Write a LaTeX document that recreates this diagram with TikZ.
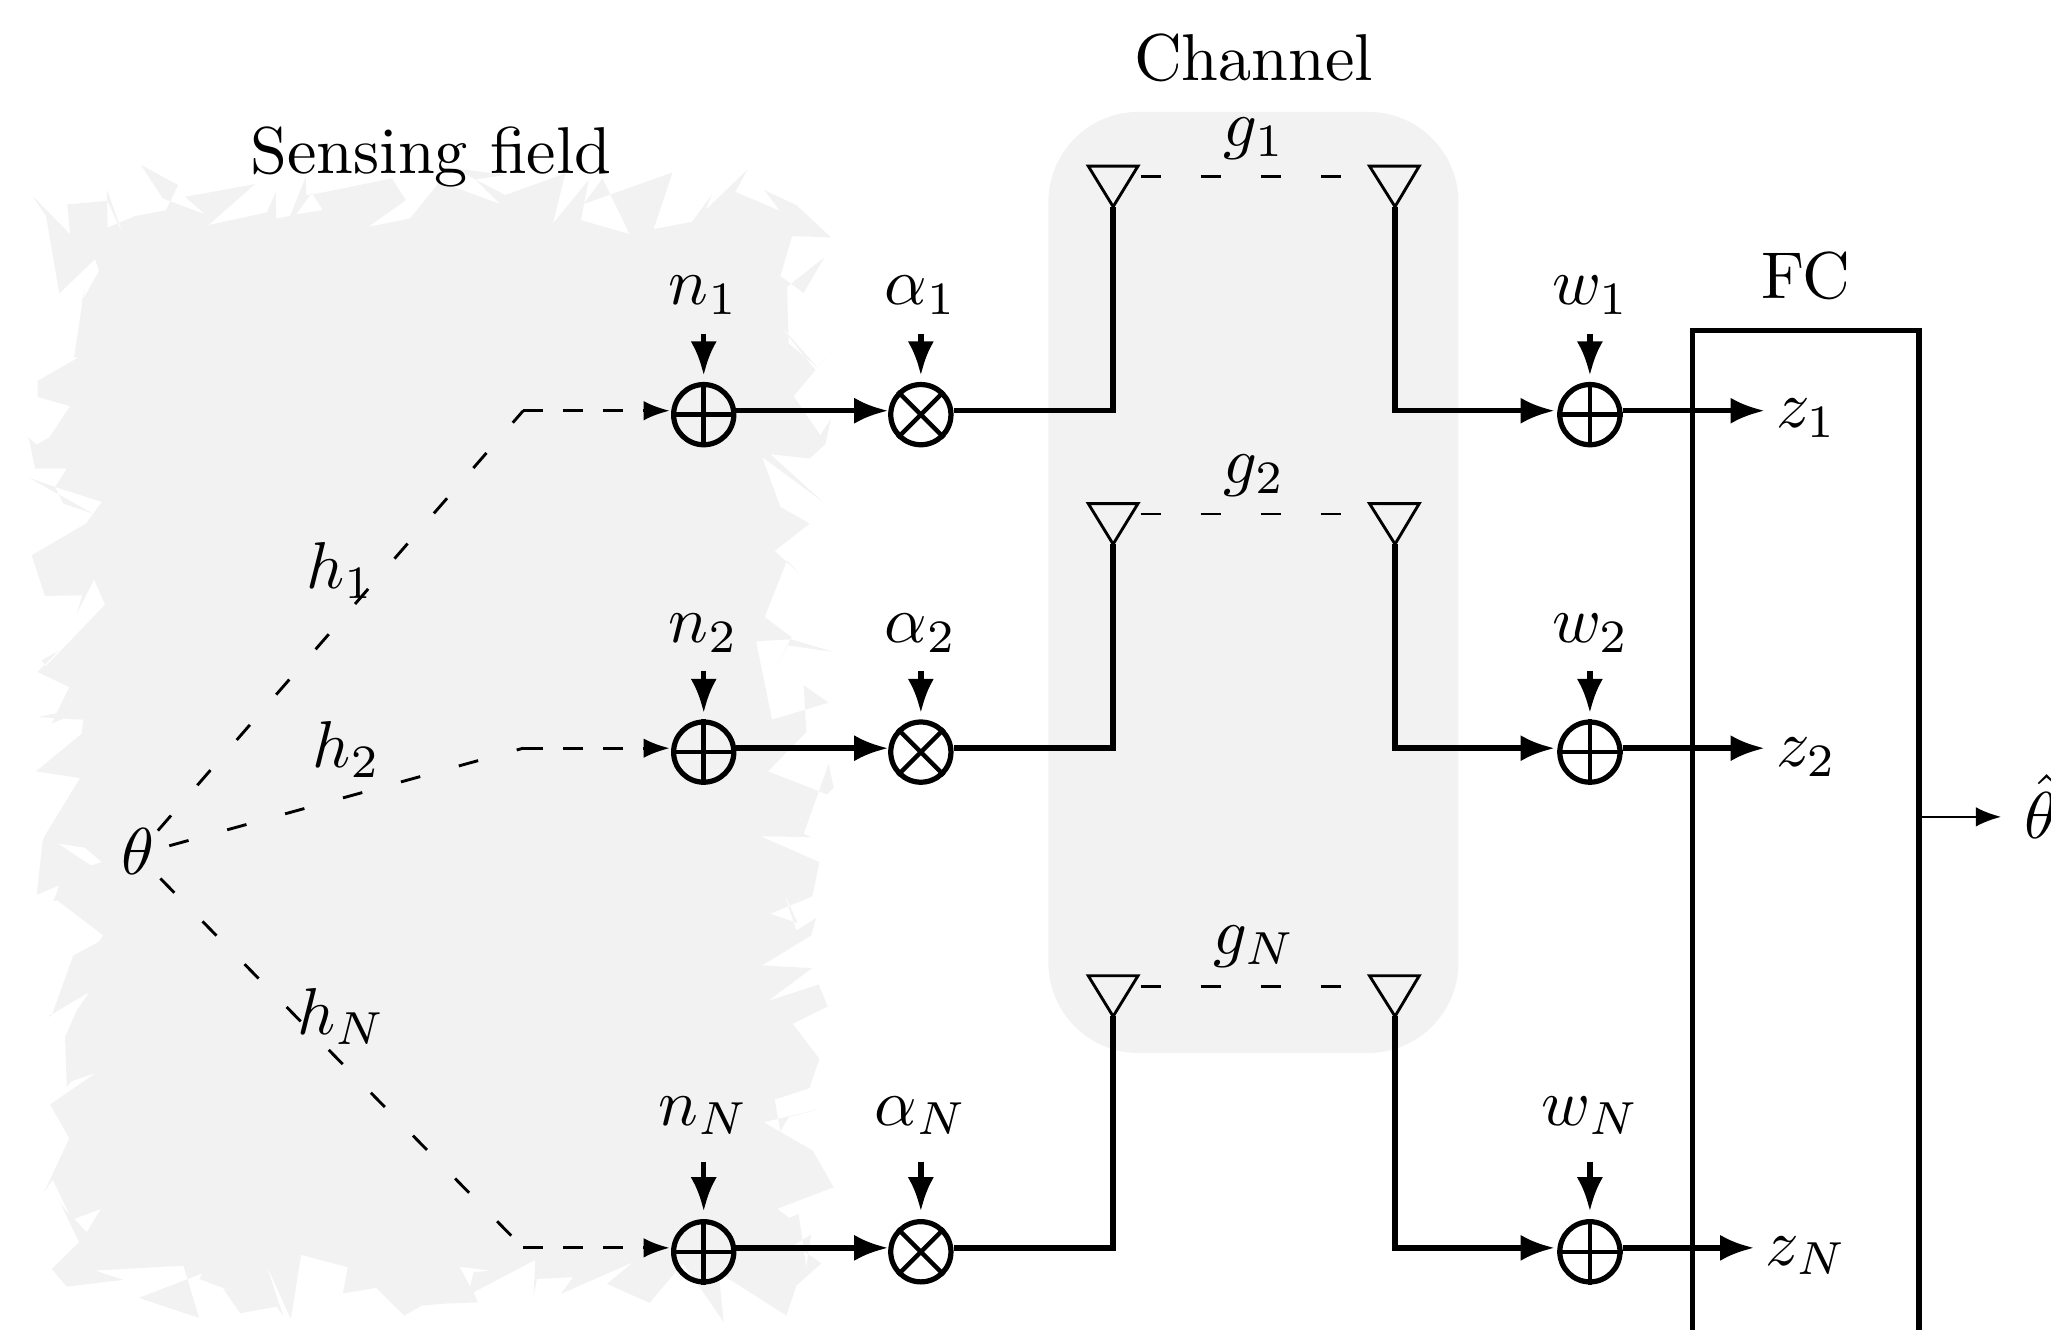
\documentclass[tikz,border=0pt]{standalone}
\usetikzlibrary{arrows.meta}
\definecolor{fieldgray}{HTML}{F2F2F2}
\tikzset{
  lab/.style={scale=1.44,inner sep=0pt,outer sep=0pt},
  sumnode/.style={circle,draw,line width=0.04cm,minimum size=0.46cm,inner sep=0pt},
  crossline/.style={line width=0.034cm},
  main/.style={line width=0.042cm},
  mainarrow/.style={main,-{Latex[length=0.26cm,width=0.2cm]}},
  probe/.style={line width=0.042cm,-{Latex[length=0.26cm,width=0.2cm]}},
  longdash/.style={line width=0.022cm,dash pattern=on 0.153cm off 0.306cm},
  shortdash/.style={line width=0.022cm,dash pattern=on 0.153cm off 0.153cm,-{Latex[length=0.2cm,width=0.15cm]}},
  antenna/.style={line width=0.022cm,line join=miter},
  fcbox/.style={draw,line width=0.04cm,minimum width=1.733cm,minimum height=8.07cm,inner sep=0pt,outer sep=0pt},
  thinarrow/.style={line width=0.02cm,-{Latex[length=0.195cm,width=0.15cm]}}
}
\begin{document}
\begin{tikzpicture}[x=0.01cm,y=-0.01cm]
\clip (0,0) rectangle (1568,1016.8);
% sensing field
\begin{scope}[x=0.007645cm,y=-0.007645cm]
\fill[fieldgray,even odd rule]
 (32.7,196)--(70,234)--(67.3,204.3)--(107.3,200.7)--(123.3,235)--(106.7,189.3)--(107.7,227.3)--(135,216)--(166,210)--(178,185)--(140.7,164.7)--(162.7,198.3)--(205,214.3)--(185,196.7)--(255,184)--(208.3,225)--(266.7,212.3)--(275.7,191.7)--(276,218.7)--(290,215.7)--(305.7,176.7)--(306,195)--(313.3,194.3)--(391.7,178.3)--(405.7,200)--(368.3,226.7)--(410,218.3)--(439.3,181.7)--(500,204)--(475,179.3)--(455,168.3)--(505,175)--(475,179.3)--(505,195)--(565,173.3)--(552.7,223.3)--(588.3,180)--(580.7,220)--(629.3,234)--(602.3,178.3)--(583.3,204)--(672.3,172.3)--(653.3,229)--(691.7,221.7)--(711.7,194.3)--(705,210)--(747.3,169.3)--(735,191.7)--(779.3,210.7)--(764,190)--(796,205)--(830.7,237.3)--(791.7,236)--(780,276)--(803.3,292.7)--(824,257.3)--(786.7,286.7)--(788.3,343.3)--(816.7,366.7)--(776.7,321.7)--(815,370)--(831.7,350)--(793.3,396)--(820,435)--(830.7,418.3)--(825,444)--(809.3,458.3)--(770,454)--(823.3,502.3)--(761.7,456.7)--(780,506.7)--(809.3,523.3)--(774.3,550.7)--(798.3,572.7)--(786.7,560)--(764.3,616.7)--(791,636.7)--(778.3,664)--(786.7,645)--(833.3,651.7)--(790.7,639)--(755.7,641)--(771.7,719.3)--(828.3,702.3)--(803.3,685)--(806,731.7)--(767.7,771)--(826.7,794)--(833.3,787.3)--(828.3,763.3)--(803.3,833.3)--(810.7,836.7)--(760.7,836)--(819,861.7)--(813.3,890)--(811.7,896)--(770,913.3)--(797.3,922.7)--(784,893.3)--(796,930)--(815.7,917.7)--(810.7,935)--(761.7,965)--(811.7,967.7)--(767.3,1000.7)--(818.3,984)--(827.3,1006)--(792.3,1023.3)--(819,1058.3)--(809,1087.7)--(774.3,1099)--(780,1130.7)--(788.3,1116.7)--(820,1108.3)--(763.3,1121.7)--(812.3,1150)--(833.3,1186.7)--(776.7,1208.3)--(789,1217.3)--(798.3,1213.3)--(806,1266.7)--(810.7,1234)--(794,1244)--(821,1262.7)--(796,1285)--(786,1315)--(718.3,1271.7)--(723.3,1321.7)--(698.3,1285)--(682.7,1262.7)--(649.3,1302.3)--(606.7,1283.3)--(632.7,1261.7)--(560.7,1293.3)--(572.7,1276.7)--(536.7,1278.3)--(541.7,1255)--(533.3,1295)--(535,1259.3)--(473.3,1291.7)--(477.7,1301.7)--(440,1303.3)--(421.7,1305)--(404,1315)--(376,1287.3)--(342.7,1292.7)--(347.7,1266.7)--(301,1254.3)--(290.7,1318.3)--(266,1264)--(283.3,1315.7)--(276.7,1306)--(240,1312.7)--(223.3,1288.3)--(236.7,1292.7)--(199.3,1278.3)--(202.3,1272.7)--(139,1297.3)--(199,1317.3)--(183.3,1265)--(95,1270)--(123.3,1279.3)--(66.7,1286)--(51.7,1268.3)--(79,1241.7)--(60.7,1203.3)--(70,1215)--(52.7,1179)--(44,1191.7)--(69.3,1137.7)--(50,1104)--(96,1072.3)--(71.7,1080.7)--(66.7,1086.7)--(65,1036.7)--(76.7,1010)--(89.3,991.7)--(46.7,1016.7)--(51.7,1015)--(73.3,955)--(98.3,941.7)--(103.3,935)--(57.3,900)--(53.3,900.7)--(59.3,885)--(36.7,894.3)--(42.7,840)--(45,835)--(80,777.7)--(36,771)--(81.7,733.3)--(83.3,719.3)--(63.3,718.3)--(51.7,723.3)--(54.3,717.7)--(38.3,716.7)--(56.7,712.7)--(69.3,686.7)--(37.3,671.7)--(58.3,650.7)--(41.7,660)--(46,665.7)--(105,604.3)--(94,579.3)--(76.7,613.3)--(82.3,595)--(45,595.7)--(31.7,555)--(86,523.3)--(101.7,501.7)--(55,486.7)--(63.3,503.3)--(92.7,513.3)--(29.3,477.7)--(55,486.7)--(66.7,468.3)--(35,468.3)--(29.3,440)--(27.7,436.7)--(36.7,444.3)--(49.3,437.3)--(70,406)--(37.7,396.7)--(37.7,380.7)--(78.3,357.3)--(74,357.3)--(82.7,300)--(85.7,286)--(81,302.7)--(99,270.7)--(95,259)--(59.3,293.3)--(46,216)--cycle
 (311.7,192.7)--(322.7,210)--(296,214.3)--cycle
 (58.3,843.3)--(85,847.3)--(101.7,861.7)--(90.7,865)--cycle
 (74.3,1218.3)--(101,1208.3)--(86.7,1231.7)--cycle
 (459.3,1266)--(489.3,1270)--(473.3,1271.7)--(470,1286)--cycle;
\end{scope}
% channel
\fill[fieldgray,rounded corners=0.69cm] (801.5,85.5) rectangle (1115,805);
% labels
\node[lab] (lsense) at (329.5,120) {Sensing field};
\node[lab] (lchan) at (958.5,44) {Channel};
\node[lab] (lfc) at (1380.5,211) {FC};
\node[lab] (lg1) at (959,106) {$g_1$};
\node[lab] (lg2) at (959,364) {$g_2$};
\node[lab] (lg3) at (959,724) {$g_N$};
\node[lab] (ln1) at (538,226) {$n_1$};
\node[lab] (ln2) at (538,484) {$n_2$};
\node[lab] (ln3) at (538,853) {$n_N$};
\node[lab] (la1) at (704,226) {$\alpha_1$};
\node[lab] (la2) at (704,484) {$\alpha_2$};
\node[lab] (la3) at (704,853) {$\alpha_N$};
\node[lab] (lw1) at (1216,226) {$w_1$};
\node[lab] (lw2) at (1216,484) {$w_2$};
\node[lab] (lw3) at (1216,853) {$w_N$};
\node[lab] (lh1) at (260,436) {$h_1$};
\node[lab] (lh2) at (265,573) {$h_2$};
\node[lab] (lh3) at (261,777) {$h_N$};
\node[lab] (src) at (105.5,651) {$\theta$};
\node[lab] (lz1) at (1381,320) {$z_1$};
\node[lab] (lz2) at (1381,579) {$z_2$};
\node[lab] (lz3) at (1381,960) {$z_N$};
\node[lab,anchor=south west] (est) at (1548,641) {$\hat\theta$};
% FC box
\node[fcbox] (fc) at (1380.35,656.5) {};
% sum and product nodes
\foreach \i/\cy/\ry in {1/317/314,2/575/572,3/957/954}{
  \node[sumnode] (a\i) at (538,\cy) {};
  \node[sumnode] (m\i) at (704,\cy) {};
  \node[sumnode] (b\i) at (1215.5,\cy) {};
  \draw[crossline] (a\i.north)--(a\i.south) (a\i.west)--(a\i.east);
  \draw[crossline] (b\i.north)--(b\i.south) (b\i.west)--(b\i.east);
  \draw[crossline] (m\i.45)--(m\i.225) (m\i.135)--(m\i.315);
  \coordinate (c\i) at (400,\ry);
  \coordinate (up\i) at (851,\ry);
  \draw[mainarrow] (a\i.east|-c\i) -- (m\i.west|-c\i);
  \draw[shortdash,shorten >=0.01cm] (c\i) -- (a\i.west|-c\i);
}
% antennas
\foreach \i/\ty/\dy in {1/127/135,2/385/393,3/746/754}{
  \coordinate (tl\i) at (851,\ty+31);
  \coordinate (tr\i) at (1066.5,\ty+31);
  \draw[antenna] (832,\ty) -- (870,\ty) -- (tl\i) -- cycle;
  \draw[antenna] (1047,\ty) -- (1085,\ty) -- (tr\i) -- cycle;
  \coordinate (dl\i) at (872,\dy);
  \coordinate (dr\i) at (1030,\dy);
  \draw[longdash] (dl\i) -- (dr\i);
  \draw[main] (m\i.east|-up\i) -| (tl\i);
  \draw[mainarrow,shorten >=0.02cm] (tr\i) |- (b\i.west|-up\i);
}
% noise arrows
\foreach \i/\s/\g in {1/255/5,2/513/5,3/888/6}{
  \coordinate (sa\i) at (538,\s);
  \coordinate (sm\i) at (704,\s);
  \coordinate (sb\i) at (1215.5,\s);
  \draw[probe,shorten >=0.0\g cm] (sa\i) -- (a\i.north);
  \draw[probe,shorten >=0.0\g cm] (sm\i) -- (m\i.north);
  \draw[probe,shorten >=0.0\g cm] (sb\i) -- (b\i.north);
}
% output arrows
\coordinate (e1) at (1349,314);
\coordinate (e2) at (1349,572);
\coordinate (e3) at (1341,954);
\foreach \i in {1,2,3}{
  \draw[mainarrow] (b\i.east|-e\i) -- (e\i);
}
% fusion output
\coordinate (o) at (1530,624.5);
\draw[thinarrow] (fc.east|-o) -- (o);
% slanted channels
\coordinate (t1) at (120.7,635);
\coordinate (t2) at (129.4,646.6);
\coordinate (t3) at (122.6,671.6);
\foreach \i in {1,2,3}{
  \draw[longdash] (t\i) -- (c\i);
}
\end{tikzpicture}
\end{document}
